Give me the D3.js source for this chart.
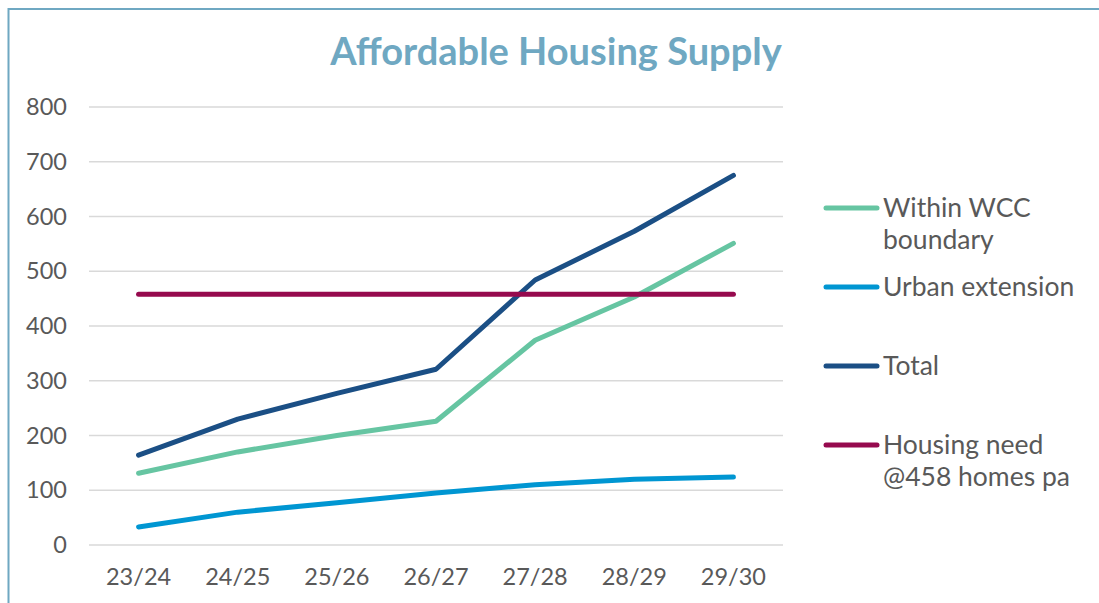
<!DOCTYPE html>
<html>
<head>
<meta charset="utf-8">
<script src="https://cdn.jsdelivr.net/npm/d3@7"></script>
<style>
  body { margin: 0; background: #fff; }
  svg { display: block; font-family: Lato, "Open Sans", sans-serif; }
</style>
</head>
<body>
<div id="chart"></div>
<script>
// Chart data
const years = ["23/24", "24/25", "25/26", "26/27", "27/28", "28/29", "29/30"];
const withinWCC = [131, 170, 200, 226, 374, 453, 551];
const urbanExtension = [33, 60, 77, 95, 110, 120, 124];
const total = [164, 230, 277, 321, 484, 573, 675];
const housingNeed = [458, 458, 458, 458, 458, 458, 458];
const yTicks = [0, 100, 200, 300, 400, 500, 600, 700, 800];

const series = [
  { name: ["Within WCC", "boundary"], values: withinWCC, color: "#66c5a2", ly: 208 },
  { name: ["Urban extension"], values: urbanExtension, color: "#0096d2", ly: 287 },
  { name: ["Total"], values: total, color: "#1b4f85", ly: 366 },
  { name: ["Housing need", "@458 homes pa"], values: housingNeed, color: "#960a4e", ly: 445 }
];

const width = 1099, height = 603;
const svg = d3.select("#chart").append("svg")
  .attr("width", width)
  .attr("height", height);

// Frame
svg.append("rect")
  .attr("x", 8.5).attr("y", 9)
  .attr("width", width + 10).attr("height", height + 10)
  .attr("fill", "none")
  .attr("stroke", "#6fa8c2")
  .attr("stroke-width", 2);

// Title
svg.append("text")
  .attr("x", 556).attr("y", 65)
  .attr("text-anchor", "middle")
  .attr("fill", "#6fa8c2")
  .style("font-size", "38px")
  .style("font-weight", "bold")
  .text("Affordable Housing Supply");

// Scales
const x = d3.scaleBand().domain(years).range([89, 783]);
const y = d3.scaleLinear().domain([0, 800]).range([545, 107]);

// Gridlines
svg.append("g")
  .selectAll("line")
  .data(yTicks)
  .enter().append("line")
  .attr("x1", 89).attr("x2", 783)
  .attr("y1", d => y(d)).attr("y2", d => y(d))
  .attr("stroke", "#d9d9d9")
  .attr("stroke-width", 1.5);

// Y axis labels
const yAxis = svg.append("g")
  .attr("transform", "translate(67,0)")
  .call(d3.axisLeft(y).tickValues(yTicks).tickSize(0).tickPadding(0));
yAxis.select(".domain").remove();
yAxis.selectAll("text")
  .attr("fill", "#595959")
  .style("font-size", "23.5px")
  .style("font-family", "Lato, sans-serif");

// X axis labels
const xAxis = svg.append("g")
  .attr("transform", "translate(0,585)")
  .call(d3.axisBottom(x).tickSize(0).tickPadding(0));
xAxis.select(".domain").remove();
xAxis.selectAll("text")
  .attr("fill", "#595959")
  .attr("y", 0)
  .attr("dy", 0)
  .style("font-size", "23.5px")
  .style("font-family", "Lato, sans-serif");

// Lines
const line = d3.line()
  .x((d, i) => x(years[i]) + x.bandwidth() / 2)
  .y(d => y(d));

svg.append("g")
  .selectAll("path")
  .data(series)
  .enter().append("path")
  .attr("d", d => line(d.values))
  .attr("fill", "none")
  .attr("stroke", d => d.color)
  .attr("stroke-width", 5)
  .attr("stroke-linecap", "round")
  .attr("stroke-linejoin", "round");

// Legend
const legend = svg.append("g").selectAll("g")
  .data(series)
  .enter().append("g")
  .attr("transform", d => `translate(0,${d.ly})`);

legend.append("line")
  .attr("x1", 826).attr("x2", 877)
  .attr("y1", 0).attr("y2", 0)
  .attr("stroke", d => d.color)
  .attr("stroke-width", 5)
  .attr("stroke-linecap", "round");

legend.append("text")
  .attr("x", 883)
  .attr("fill", "#595959")
  .style("font-size", "26.5px")
  .selectAll("tspan")
  .data(d => d.name)
  .enter().append("tspan")
  .attr("x", 883)
  .attr("y", (d, i) => i * 32)
  .attr("dy", "0.35em")
  .text(d => d);
</script>
</body>
</html>
